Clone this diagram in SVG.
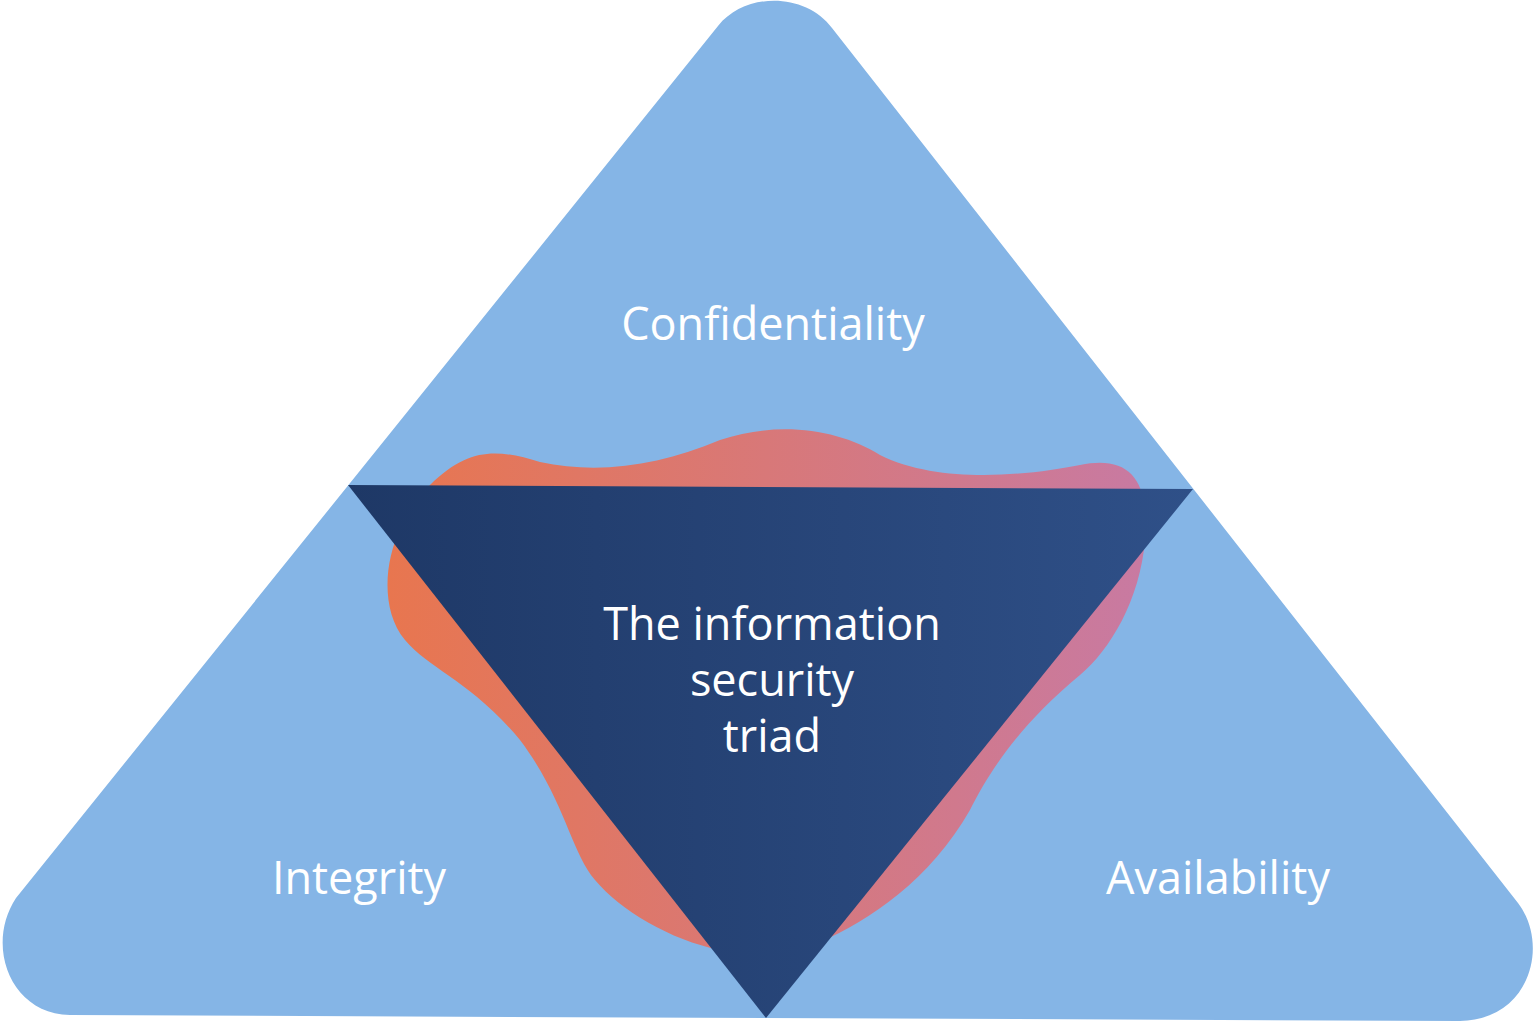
<svg xmlns="http://www.w3.org/2000/svg" width="1536" height="1022" viewBox="0 0 1536 1022">
<defs>
<linearGradient id="blob" x1="0" y1="0" x2="1" y2="0"><stop offset="0" stop-color="#e8764f"/><stop offset="1" stop-color="#c87aa2"/></linearGradient>
<linearGradient id="inner" x1="0" y1="0" x2="1" y2="0"><stop offset="0" stop-color="#1e3866"/><stop offset="1" stop-color="#2f5088"/></linearGradient>
<style>text{font-family:"Open Sans","Liberation Sans",sans-serif;fill:#fff;font-size:45px;text-anchor:middle}</style>
</defs>
<g id="outer"><path fill="#85b5e6" d="M718,26 C745,-8 805,-8 832,28 L1518,903 C1550,945 1530,1020 1460,1021 L70,1015 C10,1014 -15,945 16,898 Z"/></g>
<g id="blobg"><path fill="url(#blob)" d="M430,485 C470,445 500,450 540,462 C600,475 660,465 720,440 C780,420 840,430 880,455 C940,485 1030,475 1080,465 C1130,455 1150,480 1145,540 C1140,600 1110,650 1080,675 C1020,725 990,770 970,810 C930,880 870,920 820,942 L720,950 C670,940 620,910 595,880 C570,850 565,800 520,740 C470,680 430,670 405,640 C380,610 385,560 400,530 C410,505 420,495 430,485 Z"/></g>
<g id="center"><path fill="url(#inner)" d="M348,485 L1193,489 L766,1018 Z"/>
<text x="772" y="640">The information</text><text x="772" y="696">security</text><text x="772" y="752">triad</text></g>
<g id="conf"><text x="773" y="340">Confidentiality</text></g>
<g id="integ"><text x="359" y="894">Integrity</text></g>
<g id="avail"><text x="1218" y="894">Availability</text></g>
<g id="connectors"/>
</svg>
